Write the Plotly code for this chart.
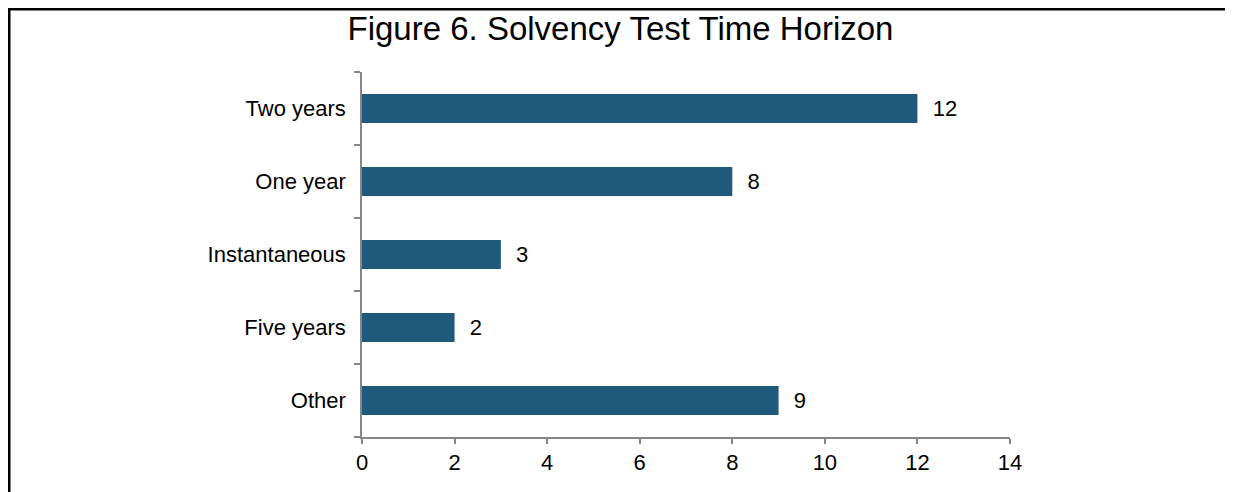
import plotly.graph_objects as go

categories = ["Two years", "One year", "Instantaneous", "Five years", "Other"]
values = [12, 8, 3, 2, 9]
x_ticks = [0, 2, 4, 6, 8, 10, 12, 14]

# page body has an 8px margin, so the figure is sized to fill the rest of the window
W, H = 1225, 484
L, R, T, B = 354, 223, 64, 55
pw, ph = W - L - R, H - T - B

def px_x(x):
    return (x - L) / pw

def px_y(y):
    return (H - B - y) / ph

FONT = "Liberation Sans, Arial, sans-serif"

fig = go.Figure(go.Bar(
    y=categories, x=values, orientation="h",
    marker=dict(color="#1F5A7C", line=dict(width=0)),
    text=values, texttemplate="  %{text}", textposition="outside",
    textfont=dict(size=22, color="#000000", family=FONT),
    cliponaxis=False,
))

fig.update_layout(
    width=W, height=H,
    margin=dict(l=L, r=R, t=T, b=B, pad=0),
    paper_bgcolor="white", plot_bgcolor="white",
    font=dict(family=FONT, size=22, color="#000000"),
    title=dict(text="Figure 6. Solvency Test Time Horizon", x=0.5, xanchor="center",
               y=1 - 20 / H, yanchor="middle", font=dict(size=33)),
    bargap=0.6,
    showlegend=False,
    xaxis=dict(range=[0, 14], tickvals=x_ticks, showgrid=False, zeroline=False,
               showline=True, linecolor="#868686", linewidth=1.5,
               ticks="outside", ticklen=5, tickcolor="#868686", tickwidth=1.5,
               tickfont=dict(size=22), fixedrange=True),
    yaxis=dict(categoryorder="array", categoryarray=categories[::-1],
               autorange=False, range=[-0.5, 4.5],
               showgrid=False, zeroline=False, showline=True,
               linecolor="#868686", linewidth=1.5, mirror=False,
               ticks="outside", tickson="boundaries", ticklen=6,
               tickcolor="#868686", tickwidth=1.5, ticklabelstandoff=10,
               tickfont=dict(size=22)),
    shapes=[dict(type="path", xref="paper", yref="paper",
                 path=f"M {px_x(1)},{px_y(H + 10)} L {px_x(1)},{px_y(1)} L {px_x(W + 10)},{px_y(1)}",
                 line=dict(color="black", width=3))],
)

fig.write_html("out.html")
